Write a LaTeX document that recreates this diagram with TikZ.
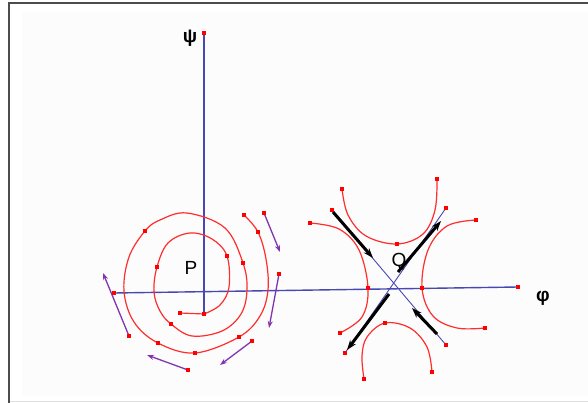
\documentclass[tikz,border=0pt]{standalone}
\usepackage{fontspec}
\setmainfont{Liberation Sans}
\usetikzlibrary{arrows.meta}
\definecolor{axisblue}{RGB}{72,72,178}
\definecolor{curvered}{RGB}{255,45,45}
\definecolor{arrowpurple}{RGB}{128,52,176}
\begin{document}
\begin{tikzpicture}[x=1pt,y=-1pt,
  dot/.style={fill=red,inner sep=0pt,minimum size=3.8pt},
  axisline/.style={axisblue,line width=1.4pt},
  diagline/.style={axisblue,line width=0.9pt},
  orbit/.style={curvered,line width=1.2pt},
  flow/.style={arrowpurple,line width=1.3pt,-{Stealth[length=7pt,width=5pt]}},
  sepx/.style={black,line width=3pt,-{Stealth[length=10pt,width=7pt]}},
  lbl/.style={font=\fontsize{19}{19}\selectfont,inner sep=0pt}]
\useasboundingbox (0,0) rectangle (588,403);
% frame
\fill[black!1.2] (22,12) rectangle (588,396);
\draw[gray!25,line width=1.5pt] (9,401.5) -- (588,401.5);
\draw[black!70,line width=2pt] (9,403) -- (9,3) -- (588,3);

% axes
\coordinate (psitop) at (204,33);
\coordinate (psibot) at (204,315);
\coordinate (phileft) at (114,293);
\coordinate (phiright) at (518,287);
\draw[axisline] (psitop) -- (psibot);
\draw[axisline] (phileft) -- (phiright);

% saddle separatrices (thin)
\coordinate (nw) at (332,210);
\coordinate (se) at (446,345);
\coordinate (sw) at (345,353);
\coordinate (ne) at (446,208);
\draw[diagline] (nw) -- (se);
\draw[diagline] (sw) -- (ne);

% spiral around P
\draw[orbit] (180,313) -- (204,314);
\draw[orbit] plot[smooth,tension=0.6] coordinates {
  (204,314) (220,305) (229,287) (227,256) (212,239) (190,233) (168,243)
  (157,267) (154,292) (160,311) (171,324) (192,336) (222,331) (241,314)
  (247,290) (243,263) (225,228) (187,213) (160,220) (145,231) (129,257)
  (124,291) (134,322) (158,343) (195,353) (239,337) (260,316) (268,290)
  (266,259) (258,232) (244,215)};

% hyperbolas around Q
\draw[orbit] plot[smooth,tension=0.6] coordinates {
  (342,189) (348,215) (366,236) (397,244) (423,234) (435,210) (437,179)};
\draw[orbit] plot[smooth,tension=0.6] coordinates {
  (364,379) (362,356) (367,337) (385,323) (410,328) (427,347) (432,372)};
\draw[orbit] plot[smooth,tension=0.6] coordinates {
  (310,223) (339,229) (359,250) (368,288) (362,317) (340,333)};
\draw[orbit] plot[smooth,tension=0.6] coordinates {
  (476,220) (447,226) (428,250) (422,288) (433,316) (457,328) (485,328)};

% purple flow arrows
\coordinate (f1a) at (264,213); \coordinate (f1b) at (280,252);
\coordinate (f2a) at (279,274); \coordinate (f2b) at (269,328);
\coordinate (f3a) at (252,341); \coordinate (f3b) at (220,365);
\coordinate (f4a) at (188,370); \coordinate (f4b) at (147,355);
\coordinate (f5a) at (129,336); \coordinate (f5b) at (103,273);
\foreach \i in {1,...,5} \draw[flow] (f\i a) -- (f\i b);

% black separatrix arrows
\draw[sepx] (333,212) -- (373,258);
\draw[sepx] (437,334) -- (412,308);
\draw[sepx] (398,272) -- (441,221);
\draw[sepx] (389,294) -- (347,350);

% dots
\foreach \p in {(180,313),(204,314),(227,256),(157,267),(171,324),(243,263),
  (145,231),(158,343),(195,353),(239,337),(258,232),(244,215),
  (204,33),(114,293),(518,287),
  (264,213),(279,274),(252,341),(188,370),(129,336),
  (342,189),(397,244),(437,179),(364,379),(385,323),(432,372),
  (310,223),(368,288),(340,333),(476,220),(422,288),(485,328),
  (332,210),(446,345),(345,353),(446,208)}
  \node[dot] at \p {};

% labels
\node[lbl] (psi) at (190,38) {\textbf{ψ}};
\node[lbl] (phi) at (543,298) {\textbf{φ}};
\node[lbl] (P) at (191,268) {P};
\node[lbl] (Q) at (399,262) {Q};
\end{tikzpicture}
\end{document}
